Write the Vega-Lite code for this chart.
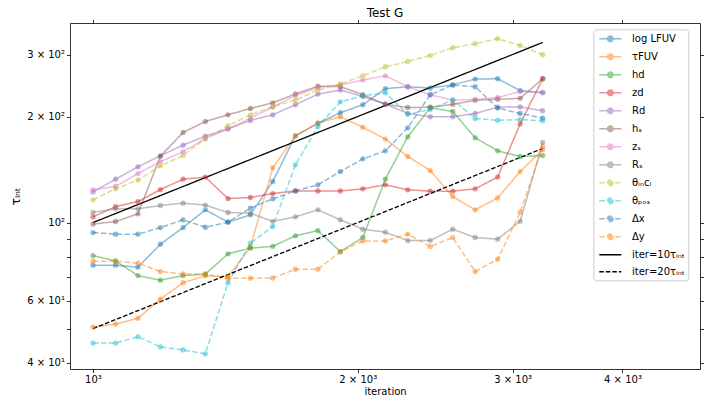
{
  "$schema": "https://vega.github.io/schema/vega-lite/v6.json",
  "width": 630,
  "height": 346,
  "autosize": {"type": "none"},
  "padding": {"left": 70, "top": 23, "right": 20, "bottom": 36},
  "title": {"text": "Test G", "fontSize": 12, "font": "DejaVu Sans", "fontWeight": "normal", "baseline": "alphabetic", "offset": -9.5, "anchor": "middle", "color": "black"},
  "datasets": {
    "runs": [
      {"iter": 1000, "log LFUV": 75.7, "τFUV": 50.5, "hd": 80.6, "zd": 103.8, "Rd": 122.2, "hₛ": 99, "zₛ": 123.9, "Rₛ": 106.8, "θᵢₙcₗ": 116, "θₚₒₛ": 45.5, "Δx": 93.7, "Δy": 77.7},
      {"iter": 1061, "log LFUV": 75.7, "τFUV": 51.5, "hd": 77.8, "zd": 111, "Rd": 132.8, "hₛ": 100.7, "zₛ": 126.6, "Rₛ": 109.4, "θᵢₙcₗ": 124.7, "θₚₒₛ": 45.5, "Δx": 92.7, "Δy": 77.7},
      {"iter": 1125, "log LFUV": 74.7, "τFUV": 53.5, "hd": 70.7, "zd": 114.7, "Rd": 144, "hₛ": 105.9, "zₛ": 137.8, "Rₛ": 109.4, "θᵢₙcₗ": 132, "θₚₒₛ": 47.4, "Δx": 92.7, "Δy": 76.7},
      {"iter": 1193, "log LFUV": 86.8, "τFUV": 60.6, "hd": 68.6, "zd": 124.1, "Rd": 154.7, "hₛ": 154.4, "zₛ": 149, "Rₛ": 111.8, "θᵢₙcₗ": 144.9, "θₚₒₛ": 44.4, "Δx": 96.8, "Δy": 72.6},
      {"iter": 1266, "log LFUV": 96.8, "τFUV": 67.5, "hd": 70.7, "zd": 132.8, "Rd": 165.9, "hₛ": 180.2, "zₛ": 158.8, "Rₛ": 113.5, "θᵢₙcₗ": 155, "θₚₒₛ": 43.5, "Δx": 101.8, "Δy": 71.5},
      {"iter": 1342, "log LFUV": 108.7, "τFUV": 70.6, "hd": 71.4, "zd": 134.6, "Rd": 176, "hₛ": 193.6, "zₛ": 173.2, "Rₛ": 112.1, "θᵢₙcₗ": 172.9, "θₚₒₛ": 42.4, "Δx": 97, "Δy": 71.4},
      {"iter": 1424, "log LFUV": 100.3, "τFUV": 70.2, "hd": 81.5, "zd": 117, "Rd": 184.6, "hₛ": 202.3, "zₛ": 184.2, "Rₛ": 106.8, "θᵢₙcₗ": 188.3, "θₚₒₛ": 67.5, "Δx": 100.3, "Δy": 69.5},
      {"iter": 1510, "log LFUV": 105.2, "τFUV": 85.1, "hd": 84.6, "zd": 117.8, "Rd": 194.9, "hₛ": 210.8, "zₛ": 198, "Rₛ": 106.3, "θᵢₙcₗ": 202.3, "θₚₒₛ": 87.4, "Δx": 109.9, "Δy": 69.5},
      {"iter": 1601, "log LFUV": 130.8, "τFUV": 143, "hd": 85.6, "zd": 120.9, "Rd": 202.3, "hₛ": 218.8, "zₛ": 212.7, "Rₛ": 100.8, "θᵢₙcₗ": 213.4, "θₚₒₛ": 97.4, "Δx": 116.8, "Δy": 69.6},
      {"iter": 1699, "log LFUV": 176.3, "τFUV": 176.3, "hd": 91.7, "zd": 123, "Rd": 216, "hₛ": 231.8, "zₛ": 229.5, "Rₛ": 103.8, "θᵢₙcₗ": 222.7, "θₚₒₛ": 145.9, "Δx": 123, "Δy": 73.7},
      {"iter": 1802, "log LFUV": 191.6, "τFUV": 191.6, "hd": 94.9, "zd": 123, "Rd": 231.6, "hₛ": 244, "zₛ": 241.8, "Rₛ": 108.7, "θᵢₙcₗ": 237.8, "θₚₒₛ": 187.4, "Δx": 128, "Δy": 73.7},
      {"iter": 1911, "log LFUV": 205, "τFUV": 199.7, "hd": 82.7, "zd": 123, "Rd": 237.8, "hₛ": 243.3, "zₛ": 246, "Rₛ": 101.8, "θᵢₙcₗ": 247.3, "θₚₒₛ": 220.2, "Δx": 139.6, "Δy": 82.7},
      {"iter": 2027, "log LFUV": 216, "τFUV": 186.4, "hd": 90.7, "zd": 124.7, "Rd": 228, "hₛ": 230.6, "zₛ": 253.8, "Rₛ": 95.8, "θᵢₙcₗ": 261, "θₚₒₛ": 229, "Δx": 151.7, "Δy": 88.7},
      {"iter": 2150, "log LFUV": 240, "τFUV": 172.6, "hd": 132.8, "zd": 128, "Rd": 216.7, "hₛ": 216.7, "zₛ": 261, "Rₛ": 93.9, "θᵢₙcₗ": 276.9, "θₚₒₛ": 233.6, "Δx": 159.8, "Δy": 88.7},
      {"iter": 2280, "log LFUV": 243, "τFUV": 154, "hd": 175.2, "zd": 123.9, "Rd": 204.3, "hₛ": 212.2, "zₛ": 243, "Rₛ": 88.9, "θᵢₙcₗ": 286.7, "θₚₒₛ": 203, "Δx": 185.8, "Δy": 92.7},
      {"iter": 2418, "log LFUV": 241, "τFUV": 140.5, "hd": 211.8, "zd": 122.8, "Rd": 199.7, "hₛ": 212.5, "zₛ": 230.6, "Rₛ": 88.9, "θᵢₙcₗ": 298, "θₚₒₛ": 209.4, "Δx": 230.6, "Δy": 85.5},
      {"iter": 2565, "log LFUV": 246, "τFUV": 118.5, "hd": 206.7, "zd": 122.8, "Rd": 199.7, "hₛ": 216.7, "zₛ": 222.7, "Rₛ": 95.8, "θᵢₙcₗ": 313.6, "θₚₒₛ": 222.9, "Δx": 245.7, "Δy": 90.7},
      {"iter": 2720, "log LFUV": 255.5, "τFUV": 108.7, "hd": 174, "zd": 124.7, "Rd": 204, "hₛ": 222.4, "zₛ": 223.6, "Rₛ": 90.7, "θᵢₙcₗ": 321.9, "θₚₒₛ": 197.5, "Δx": 243, "Δy": 72.6},
      {"iter": 2885, "log LFUV": 256, "τFUV": 117.5, "hd": 159.8, "zd": 134.6, "Rd": 212.5, "hₛ": 223.9, "zₛ": 226.5, "Rₛ": 89.7, "θᵢₙcₗ": 332.6, "θₚₒₛ": 195.1, "Δx": 211.4, "Δy": 78.7},
      {"iter": 3060, "log LFUV": 237, "τFUV": 139.6, "hd": 154, "zd": 190.7, "Rd": 213, "hₛ": 225.3, "zₛ": 235.6, "Rₛ": 100.9, "θᵢₙcₗ": 318.3, "θₚₒₛ": 196, "Δx": 204, "Δy": 107},
      {"iter": 3246, "log LFUV": 234, "τFUV": 160.9, "hd": 155, "zd": 256, "Rd": 207.7, "hₛ": 256, "zₛ": 233.6, "Rₛ": 168.8, "θᵢₙcₗ": 299.5, "θₚₒₛ": 194.5, "Δx": 198, "Δy": 164}
    ],
    "refs": [
      {"series": "iter=10τᵢₙₜ", "iter": 1000, "tau": 100},
      {"series": "iter=10τᵢₙₜ", "iter": 3246, "tau": 324.6},
      {"series": "iter=20τᵢₙₜ", "iter": 1000, "tau": 50},
      {"series": "iter=20τᵢₙₜ", "iter": 3246, "tau": 162.3}
    ]
  },
  "layer": [
    {
      "data": {"name": "runs"},
      "transform": [{"fold": ["log LFUV", "τFUV", "hd", "zd", "Rd", "hₛ", "zₛ", "Rₛ", "θᵢₙcₗ", "θₚₒₛ", "Δx", "Δy"], "as": ["series", "tau"]}],
      "mark": {"type": "line", "strokeWidth": 1.5, "opacity": 0.5},
      "encoding": {
        "x": {"field": "iter", "type": "quantitative",
          "scale": {"type": "log", "domain": [941.6, 4900], "nice": false, "zero": false},
          "axis": {"orient": "bottom", "values": [1000, 2000, 3000, 4000],
            "labelExpr": "datum.value == 1000 ? '10³' : datum.value == 2000 ? '2 × 10³' : datum.value == 3000 ? '3 × 10³' : datum.value == 4000 ? '4 × 10³' : ''",
            "title": "iteration", "tickSize": 3.5, "labelPadding": 2, "titlePadding": 2, "labelFlush": false, "labelOverlap": false}},
        "y": {"field": "tau", "type": "quantitative",
          "scale": {"type": "log", "domain": [38.4, 368.6], "nice": false, "zero": false},
          "axis": {"orient": "left", "values": [40, 50, 60, 70, 80, 90, 100, 200, 300],
            "labelExpr": "datum.value == 40 ? '4 × 10¹' : datum.value == 60 ? '6 × 10¹' : datum.value == 100 ? '10²' : datum.value == 200 ? '2 × 10²' : datum.value == 300 ? '3 × 10²' : ''",
            "title": "τᵢₙₜ", "titleFontSize": 12, "tickSize": 3.5, "labelPadding": 2, "titlePadding": 4, "labelOverlap": false, "labelFlush": false}},
        "color": {"field": "series", "type": "nominal",
          "scale": {
            "domain": ["log LFUV", "τFUV", "hd", "zd", "Rd", "hₛ", "zₛ", "Rₛ", "θᵢₙcₗ", "θₚₒₛ", "Δx", "Δy", "iter=10τᵢₙₜ", "iter=20τᵢₙₜ"],
            "range": ["#1f77b4", "#ff7f0e", "#2ca02c", "#d62728", "#9467bd", "#8c564b", "#e377c2", "#7f7f7f", "#bcbd22", "#17becf", "#1f77b4", "#ff7f0e", "#000000", "#000000"]},
          "legend": {
            "orient": "none", "legendX": 523.3, "legendY": 6.3, "title": null,
            "padding": 3, "rowPadding": 5, "symbolSize": 121, "symbolOffset": 7.5, "labelOffset": 15.2,
            "labelFontSize": 10, "labelFont": "DejaVu Sans", "labelColor": "black", "labelLimit": 200,
            "fillColor": "rgba(255,255,255,0.8)", "strokeColor": "#cccccc", "cornerRadius": 3,
            "encoding": {
              "symbols": {
                "shape": {"value": {"expr": "indexof(['iter=10τᵢₙₜ','iter=20τᵢₙₜ'], datum.value) >= 0 ? 'M-2,0L2,0' : 'M-2,0L2,0M0.5,0A0.5,0.5,0,1,1,-0.5,0A0.5,0.5,0,1,1,0.5,0'"}},
                "fill": {"value": {"expr": "scale('color', datum.value)"}},
                "stroke": {"value": {"expr": "scale('color', datum.value)"}},
                "opacity": {"value": {"expr": "indexof(['iter=10τᵢₙₜ','iter=20τᵢₙₜ'], datum.value) >= 0 ? 1 : 0.5"}},
                "strokeDash": {"value": {"expr": "indexof(['θᵢₙcₗ','θₚₒₛ','Δx','Δy','iter=20τᵢₙₜ'], datum.value) >= 0 ? [4,2] : [1,0]"}},
                "strokeWidth": {"value": 1.5}
              }
            }
          }},
        "strokeDash": {"field": "series", "type": "nominal",
          "scale": {
            "domain": ["log LFUV", "τFUV", "hd", "zd", "Rd", "hₛ", "zₛ", "Rₛ", "θᵢₙcₗ", "θₚₒₛ", "Δx", "Δy", "iter=10τᵢₙₜ", "iter=20τᵢₙₜ"],
            "range": [[1, 0], [1, 0], [1, 0], [1, 0], [1, 0], [1, 0], [1, 0], [1, 0], [5.5, 2.4], [5.5, 2.4], [5.5, 2.4], [5.5, 2.4], [1, 0], [4.5, 2]]},
          "legend": null}
      }
    },
    {
      "data": {"name": "refs"},
      "mark": {"type": "line", "strokeWidth": 1.3},
      "encoding": {
        "x": {"field": "iter", "type": "quantitative", "axis": null},
        "y": {"field": "tau", "type": "quantitative", "axis": null},
        "color": {"field": "series", "type": "nominal"},
        "strokeDash": {"field": "series", "type": "nominal"}
      }
    },
    {
      "data": {"name": "runs"},
      "transform": [{"fold": ["log LFUV", "τFUV", "hd", "zd", "Rd", "hₛ", "zₛ", "Rₛ", "θᵢₙcₗ", "θₚₒₛ", "Δx", "Δy"], "as": ["series", "tau"]}],
      "mark": {"type": "point", "filled": true, "size": 28, "opacity": 0.5, "strokeWidth": 0},
      "encoding": {
        "x": {"field": "iter", "type": "quantitative",
          "axis": {"orient": "top", "values": [1000, 2000, 3000, 4000], "labels": false, "title": null, "tickSize": 3.5}},
        "y": {"field": "tau", "type": "quantitative",
          "axis": {"orient": "right", "values": [40, 50, 60, 70, 80, 90, 100, 200, 300], "labels": false, "title": null, "tickSize": 3.5}},
        "color": {"field": "series", "type": "nominal"}
      }
    }
  ],
  "resolve": {"axis": {"x": "independent", "y": "independent"}},
  "config": {
    "view": {"stroke": null},
    "axis": {"domainColor": "black", "tickColor": "black", "labelColor": "black", "titleColor": "black",
      "labelFont": "DejaVu Sans", "titleFont": "DejaVu Sans", "labelFontSize": 10, "titleFontSize": 10,
      "titleFontWeight": "normal", "grid": false, "domainWidth": 0.8, "tickWidth": 0.8}
  }
}
